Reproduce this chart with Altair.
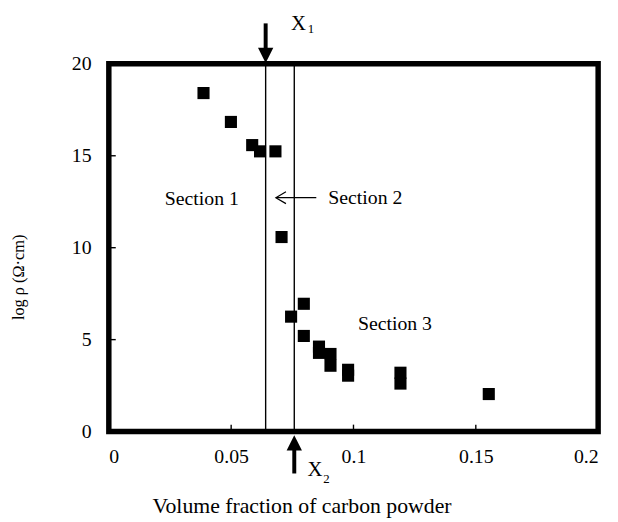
import altair as alt
import pandas as pd

# ---- data ----
vol_frac = [0.0387, 0.0499, 0.0586, 0.0618, 0.0681, 0.0706, 0.0745, 0.0797, 0.0797,
            0.0859, 0.0859, 0.0906, 0.0906, 0.0978, 0.0978, 0.1192, 0.1192, 0.1553]
log_rho = [18.41, 16.84, 15.58, 15.24, 15.24, 10.58, 6.25, 6.95, 5.20,
           4.62, 4.28, 4.22, 3.58, 3.36, 3.04, 3.20, 2.61, 2.04]

x_ticks = [0, 0.05, 0.1, 0.15, 0.2]
y_ticks = [0, 5, 10, 15, 20]
inner_x_ticks = [0.05, 0.1, 0.15]
inner_y_ticks = [5, 10, 15]

threshold_x = [0.0641, 0.0758]          # X1, X2

section_labels = ["Section 1", "Section 2", "Section 3"]
section_x = [0.0380, 0.0897, 0.1018]
section_y = [12.66, 12.72, 5.83]
section_align = ["center", "left", "left"]

FONT = "Liberation Serif"

pts = pd.DataFrame({"x": vol_frac, "y": log_rho})

xscale = alt.Scale(domain=[0, 0.2], nice=False, zero=True)
yscale = alt.Scale(domain=[0, 20], nice=False, zero=True)

x_axis = alt.Axis(values=x_ticks, format="~g", title="Volume fraction of carbon powder",
                  labelPadding=15, titleX=195, titleY=82,
                  titleBaseline="alphabetic", titleAlign="center",
                  titleFontSize=22)
y_axis = alt.Axis(values=y_ticks, format="~g", title="log ρ (Ω·cm)",
                  labelPadding=18, titleX=-86, titleY=215.5, titleAngle=-90,
                  titleBaseline="alphabetic", titleAlign="center",
                  titleFontSize=16.5)


def X(field="x", **kw):
    return alt.X(field, type="quantitative", scale=xscale, axis=x_axis, **kw)


def Y(field="y", **kw):
    return alt.Y(field, type="quantitative", scale=yscale, axis=y_axis, **kw)


points = alt.Chart(pts).mark_square(size=150, color="black", opacity=1).encode(
    x=X(), y=Y()
)

# vertical threshold lines
thr = pd.DataFrame({"x": threshold_x, "y0": [0, 0], "y1": [20, 20]})
thr_lines = alt.Chart(thr).mark_rule(color="black", strokeWidth=1.4).encode(
    x=X(), y=Y("y0"), y2="y1"
)

# inner ticks
xt = pd.DataFrame({"x": inner_x_ticks})
xtick_marks = alt.Chart(xt).mark_rule(color="black", strokeWidth=1.4).encode(
    x=X(), y=alt.value(372), y2=alt.value(365)
)
yt = pd.DataFrame({"y": inner_y_ticks})
ytick_marks = alt.Chart(yt).mark_rule(color="black", strokeWidth=1.4).encode(
    y=Y(), x=alt.value(0), x2=alt.value(7)
)

# section labels
sec = pd.DataFrame({"x": section_x, "y": section_y, "t": section_labels, "a": section_align})
sec_center = alt.Chart(sec[sec.a == "center"]).mark_text(
    font=FONT, fontSize=20, color="black", align="center", baseline="middle"
).encode(x=X(), y=Y(), text="t:N")
sec_left = alt.Chart(sec[sec.a == "left"]).mark_text(
    font=FONT, fontSize=20, color="black", align="left", baseline="middle"
).encode(x=X(), y=Y(), text="t:N")

# section 2 arrow (thin, open head)
s2_line = pd.DataFrame({"x": [0.0687], "x2": [0.0848], "y": [12.72]})
s2_shaft = alt.Chart(s2_line).mark_rule(color="black", strokeWidth=1.2).encode(
    x=X(), x2="x2", y=Y()
)
s2_head_df = pd.DataFrame({"x": [0.0707], "y": [12.72]})
s2_head = alt.Chart(s2_head_df).mark_point(
    shape="M0.7,-1L-1,0L0.7,1", size=144, filled=False, color="black", strokeWidth=1.2, opacity=1
).encode(x=X(), y=Y())

# big arrows at X1 (top) and X2 (bottom)
top_shaft_df = pd.DataFrame({"x": [threshold_x[0]], "y": [22.2], "y2": [20.8]})
top_shaft = alt.Chart(top_shaft_df).mark_rule(color="black", strokeWidth=4).encode(
    x=X(), y=Y(), y2="y2"
)
top_head_df = pd.DataFrame({"x": [threshold_x[0]], "y": [20.46]})
top_head = alt.Chart(top_head_df).mark_point(
    shape="M-1,-1L1,-1L0,1Z", size=240, filled=True, color="black", opacity=1
).encode(x=X(), y=Y())

bot_shaft_df = pd.DataFrame({"x": [threshold_x[1]], "y": [-0.89], "y2": [-2.28]})
bot_shaft = alt.Chart(bot_shaft_df).mark_rule(color="black", strokeWidth=4).encode(
    x=X(), y=Y(), y2="y2"
)
bot_head_df = pd.DataFrame({"x": [threshold_x[1]], "y": [-0.62]})
bot_head = alt.Chart(bot_head_df).mark_point(
    shape="M-1,1L1,1L0,-1Z", size=240, filled=True, color="black", opacity=1
).encode(x=X(), y=Y())

# X1 / X2 labels
xl_df = pd.DataFrame({"x": [0.0745, 0.0812], "y": [21.83, -2.39], "t": ["X", "X"]})
x_lbl = alt.Chart(xl_df).mark_text(
    font=FONT, fontSize=21, color="black", align="left", baseline="alphabetic"
).encode(x=X(), y=Y(), text="t:N")
sub_df = pd.DataFrame({"x": [0.0813, 0.0876], "y": [21.69, -2.82], "t": ["1", "2"]})
sub_lbl = alt.Chart(sub_df).mark_text(
    font=FONT, fontSize=13, color="black", align="left", baseline="alphabetic"
).encode(x=X(), y=Y(), text="t:N")

chart = alt.layer(
    thr_lines, xtick_marks, ytick_marks, points,
    sec_center, sec_left, s2_shaft, s2_head,
    top_shaft, top_head, bot_shaft, bot_head, x_lbl, sub_lbl,
).properties(
    width=495, height=372,
    autosize=alt.AutoSizeParams(type="none"),
    padding={"left": 102, "top": 53.5, "right": 12, "bottom": 88},
    background="white",
).configure_view(
    stroke="black", strokeWidth=5.5
).configure_axis(
    domain=False, ticks=False, grid=False,
    labelFont=FONT, labelFontSize=20, labelColor="black",
    titleFont=FONT, titleColor="black", titleFontWeight="normal",
)

chart.save("out.html", embed_options={"renderer": "svg", "actions": False})
